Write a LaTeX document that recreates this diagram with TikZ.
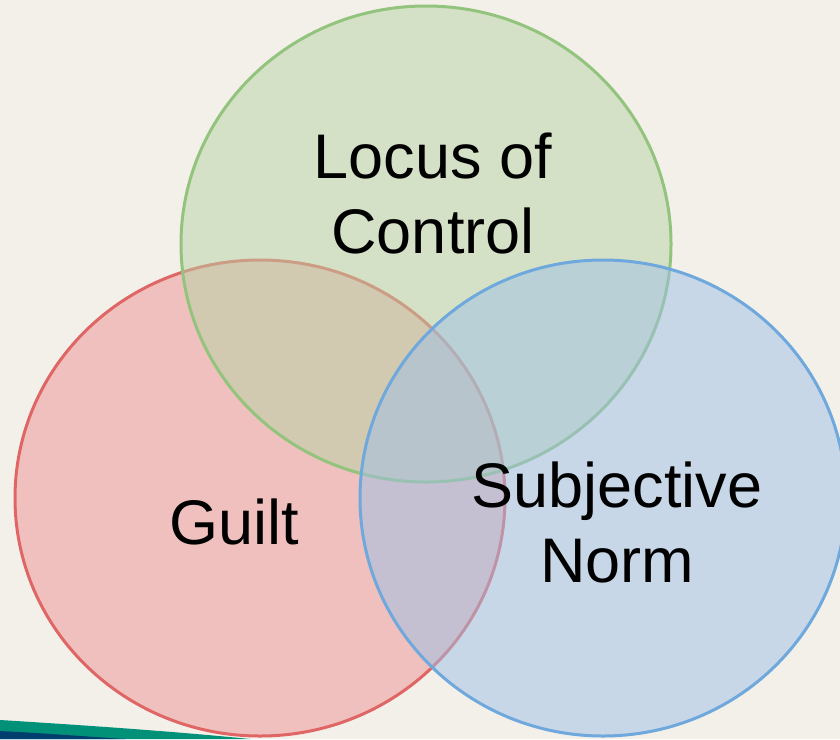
\documentclass[tikz,border=0pt]{standalone}
\usepackage{fontspec}
\setmainfont{Liberation Sans}
\definecolor{bgc}{RGB}{243,240,234}
\definecolor{redE}{RGB}{224,102,102}
\definecolor{greenE}{RGB}{147,196,125}
\definecolor{blueE}{RGB}{111,168,220}
\definecolor{redF}{RGB}{237,146,146}
\definecolor{greenF}{RGB}{183,212,164}
\definecolor{blueF}{RGB}{157,192,230}
\definecolor{tealS}{RGB}{0,145,120}
\definecolor{navyS}{RGB}{0,62,110}
\begin{document}
\begin{tikzpicture}[x=1pt,y=-1pt,
  venn/.style={line width=3pt,fill opacity=0.5},
  lbl/.style={font=\fontsize{63}{75}\selectfont,align=center,text=black}]
\fill[bgc] (0,0) rectangle (840,739);
\useasboundingbox (0,0) rectangle (840,739);
\fill[tealS] (0,720) .. controls (80,725) and (170,731) .. (250,739) -- (0,739) -- cycle;
\fill[navyS] (0,731) .. controls (40,733) and (80,736) .. (125,739) -- (0,739) -- cycle;
\draw[venn,draw=redE,fill=redF] (260,498) ellipse [x radius=245,y radius=238];
\draw[venn,draw=greenE,fill=greenF] (426,244) ellipse [x radius=245,y radius=238];
\draw[venn,draw=blueE,fill=blueF] (603,498) ellipse [x radius=243,y radius=238];
\node[lbl] (loc) at (433,194) {Locus of\\Control};
\node[lbl] (guilt) at (234,522) {Guilt};
\node[lbl] (sub) at (617,522) {Subjective\\Norm};
\end{tikzpicture}
\end{document}
